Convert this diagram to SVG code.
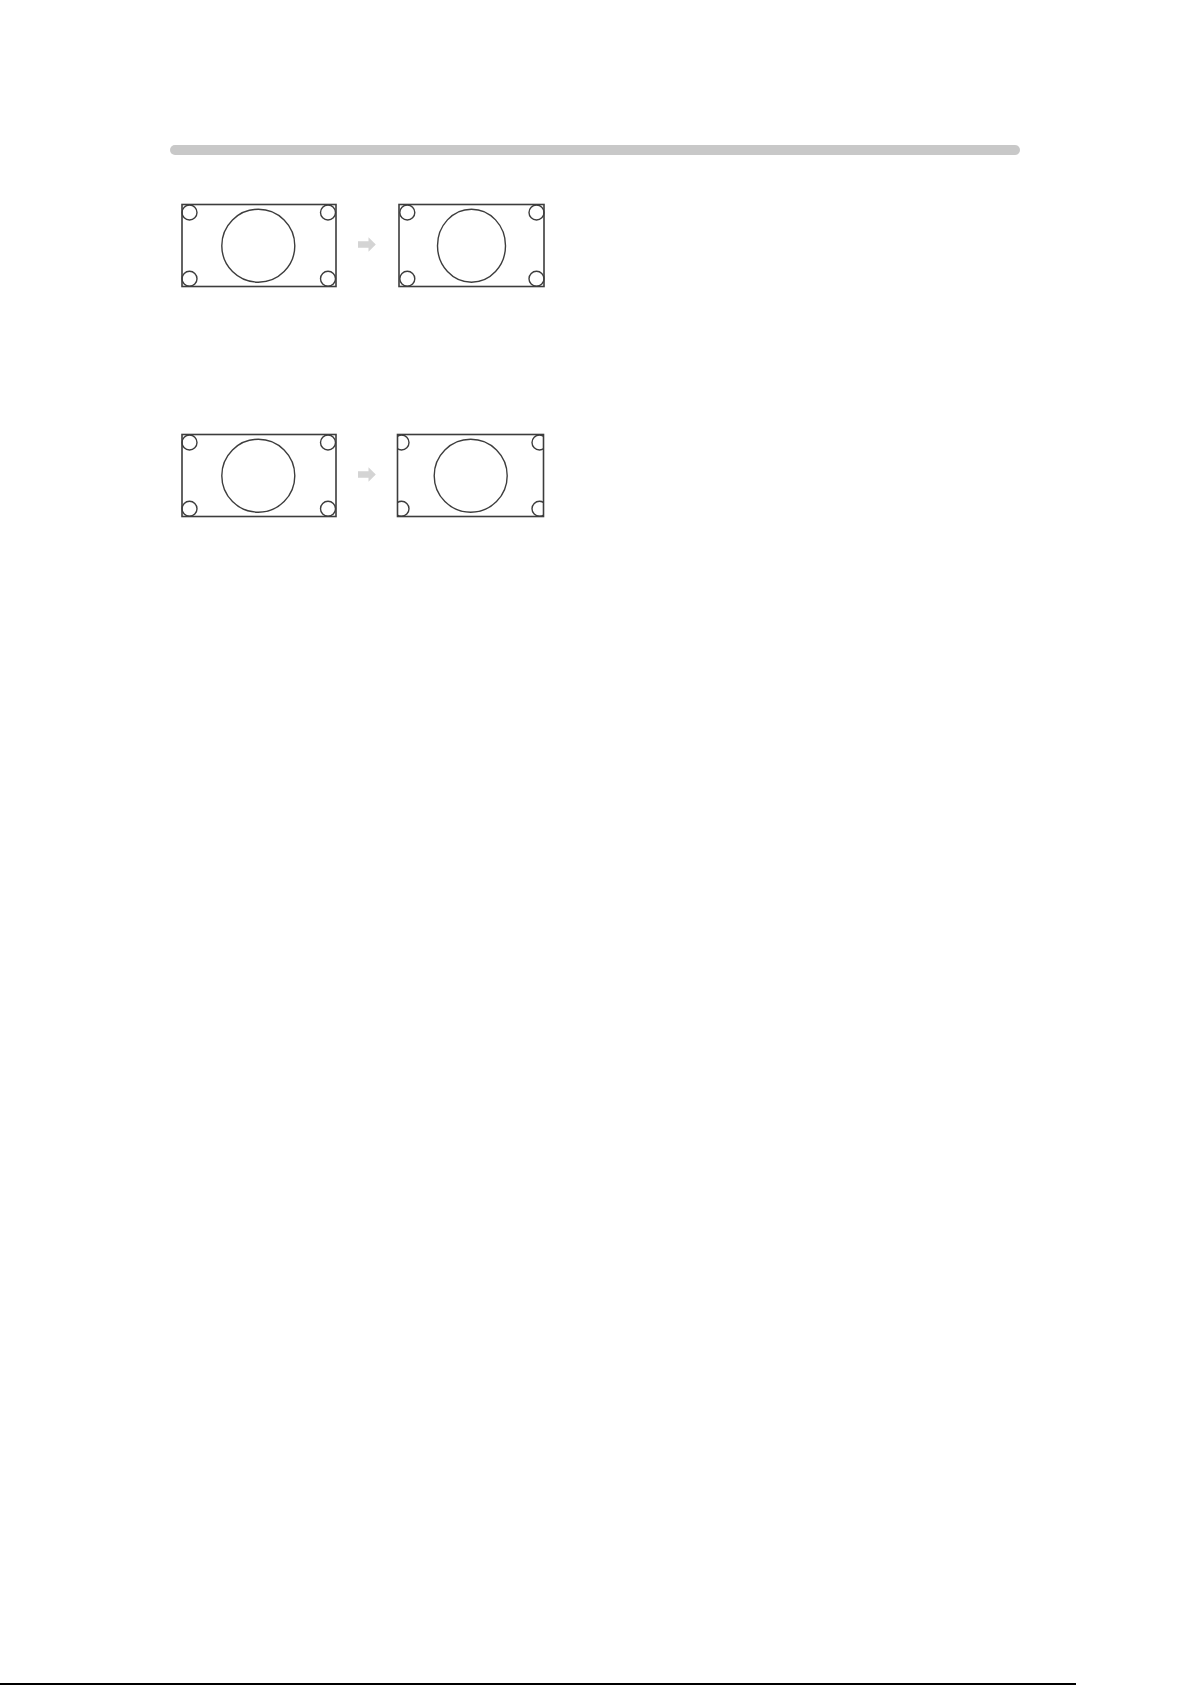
<svg xmlns="http://www.w3.org/2000/svg" width="1192" height="1685" viewBox="0 0 1192 1685">
<style>
.frame{fill:none;stroke:#3d3d3d;stroke-width:1.6}
.big{fill:none;stroke:#3d3d3d;stroke-width:1.4}
.small{fill:none;stroke:#3d3d3d;stroke-width:1.4}
.arrow{fill:#d4d4d4}
</style>
<defs>
<clipPath id="clip4"><rect x="397.5" y="434.5" width="146" height="82"/></clipPath>
</defs>
<rect width="1192" height="1685" fill="#ffffff"/>
<line x1="175" y1="150" x2="1015" y2="150" stroke="#c8c8c8" stroke-width="10" stroke-linecap="round"/>
<g id="box1">
<rect class="frame" x="182" y="204.5" width="154" height="82"/>
<circle class="big" cx="258.3" cy="245.7" r="36.5"/>
<circle class="small" cx="189.5" cy="212.5" r="7.5"/>
<circle class="small" cx="328" cy="212.5" r="7.5"/>
<circle class="small" cx="189.5" cy="278.8" r="7.5"/>
<circle class="small" cx="328" cy="278.8" r="7.5"/>
</g>
<g id="box2">
<rect class="frame" x="399" y="204.5" width="145" height="82"/>
<ellipse class="big" cx="471.5" cy="245.7" rx="34" ry="36.5"/>
<circle class="small" cx="407.3" cy="212.5" r="7.5"/>
<circle class="small" cx="536.5" cy="212.5" r="7.5"/>
<circle class="small" cx="407.3" cy="278.8" r="7.5"/>
<circle class="small" cx="536.5" cy="278.8" r="7.5"/>
</g>
<g id="box3">
<rect class="frame" x="182" y="434.5" width="154" height="82"/>
<circle class="big" cx="258.3" cy="475.7" r="36.5"/>
<circle class="small" cx="189.5" cy="442.5" r="7.5"/>
<circle class="small" cx="328" cy="442.5" r="7.5"/>
<circle class="small" cx="189.5" cy="508.8" r="7.5"/>
<circle class="small" cx="328" cy="508.8" r="7.5"/>
</g>
<g id="box4">
<rect class="frame" x="397.5" y="434.5" width="146" height="82"/>
<circle class="big" cx="470.7" cy="475.7" r="36.5"/>
<g clip-path="url(#clip4)">
<circle class="small" cx="401.5" cy="442.5" r="7.5"/>
<circle class="small" cx="539.5" cy="442.5" r="7.5"/>
<circle class="small" cx="401.5" cy="508.8" r="7.5"/>
<circle class="small" cx="539.5" cy="508.8" r="7.5"/>
</g>
</g>
<g id="connectors">
<path class="arrow" d="M358,241.2 H368.5 V237.2 L375.8,244.5 L368.5,251.8 V247.8 H358 Z"/>
<path class="arrow" d="M358,471.2 H368.5 V467.2 L375.8,474.5 L368.5,481.8 V477.8 H358 Z"/>
</g>
<line x1="0" y1="1684" x2="1076" y2="1684" stroke="#000000" stroke-width="2"/>
</svg>
